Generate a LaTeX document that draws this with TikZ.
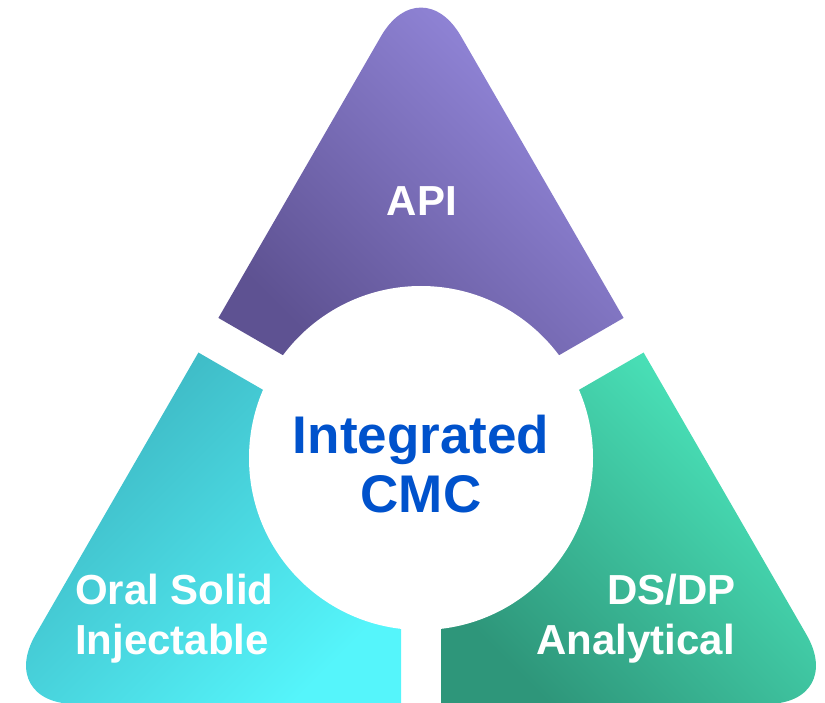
\documentclass[tikz,border=0pt]{standalone}
\usepackage{fontspec}
\setmainfont{Liberation Sans}
\definecolor{apiDark}{HTML}{5E5292}
\definecolor{apiLight}{HTML}{978BE0}
\definecolor{osiDark}{HTML}{3CB3BF}
\definecolor{osiLight}{HTML}{55F5FB}
\definecolor{dsLight}{HTML}{4DEBC0}
\definecolor{dsDark}{HTML}{2E967A}
\definecolor{cmcblue}{HTML}{0052CC}
\begin{document}
\begin{tikzpicture}[x=1pt,y=-1pt,
  lbl/.style={text=white, font=\fontsize{42}{50}\selectfont\bfseries, inner sep=0pt},
  core/.style={text=cmcblue, font=\fontsize{53}{59}\selectfont\bfseries, inner sep=0pt},
  rc/.style={rounded corners=80pt}]
\useasboundingbox (0,0) rectangle (825,703);
% top piece
\begin{scope}
  \clip[rc] (421,704) -- (846.5,704) -- (421,-33) -- (-4.5,704) -- cycle;
  \clip (421,434.9) -- (-88.6,140.7) -- (-88.6,-100) -- (930.6,-100) -- (930.6,140.7) -- cycle;
  \shade[top color=apiLight, bottom color=apiDark, shading angle=-45] (217,0) rectangle (625,360);
\end{scope}
% left piece
\begin{scope}
  \clip[rc] (421,704) -- (846.5,704) -- (421,-33) -- (-4.5,704) -- cycle;
  \clip (401,469.5) -- (-108.6,175.3) -- (-108.6,800) -- (401,800) -- cycle;
  \shade[top color=osiDark, bottom color=osiLight, shading angle=45] (20,350) rectangle (401,705);
\end{scope}
% right piece
\begin{scope}
  \clip[rc] (421,704) -- (846.5,704) -- (421,-33) -- (-4.5,704) -- cycle;
  \clip (441,469.5) -- (950.6,175.3) -- (950.6,800) -- (441,800) -- cycle;
  \shade[top color=dsLight, bottom color=dsDark, shading angle=-45] (441,350) rectangle (820,705);
\end{scope}
% central disc
\node[circle, fill=white, minimum size=344pt, inner sep=0pt] (hub) at (421,458) {};
% labels
\node[lbl, anchor=base] (api) at (422,216) {API};
\node[core, anchor=base] (integ) at (421,453) {Integrated};
\node[core, anchor=base] (cmc) at (421,512) {CMC};
\node[lbl, anchor=base west] (oral) at (75,604) {Oral Solid};
\node[lbl, anchor=base west] (inj) at (75,654) {Injectable};
\node[lbl, anchor=base east] (dsdp) at (736,604) {DS/DP};
\node[lbl, anchor=base east] (anal) at (735,654) {Analytical};
\end{tikzpicture}
\end{document}
